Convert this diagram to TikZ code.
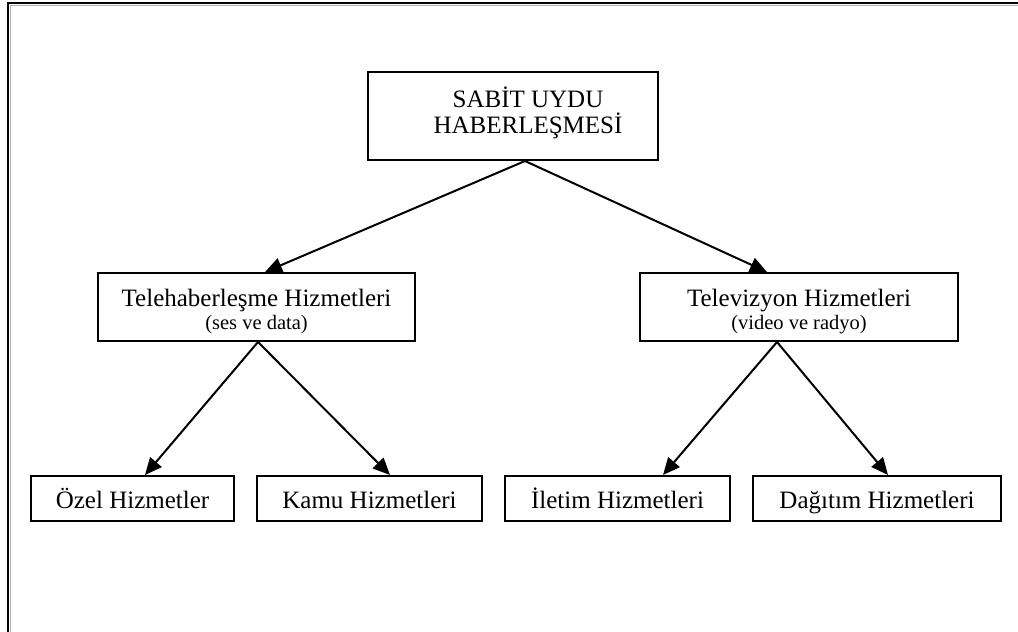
\documentclass[tikz,border=0pt]{standalone}
\usepackage{fontspec}
\setmainfont{Liberation Serif}
\usetikzlibrary{arrows.meta,calc}
% smaller type for the second line of a box
\newcommand\subline{\fontsize{20.5}{22}\selectfont}
\begin{document}
\begin{tikzpicture}[x=1pt,y=-1pt,
  box/.style={draw=black,line width=2pt,rectangle,inner sep=0pt,align=center,
    font=\fontsize{25}{26}\selectfont},
  leaf/.style={box,minimum height=45pt,text height=23pt,text depth=4pt},
  twoline/.style={box,minimum height=68pt,text height=50pt,text depth=6pt},
  link/.style={line width=2pt,-{Triangle[length=17pt,width=15pt]}}]
\useasboundingbox (0,0) rectangle (1018,632);
\clip (0,0) rectangle (1018,632);
% outer frame with a light shadow
\draw[gray!60,line width=1.5pt] (10.5,640) -- (10.5,5.5) -- (1030,5.5);
\draw[black,line width=2.5pt] (8,640) -- (8,3) -- (1030,3);

% tree of services
\node[box,minimum width=290pt,minimum height=88pt,text height=40pt,text depth=6pt]
  (root) at (513,116)
  {\hspace*{30pt}SABİT UYDU\\\hspace*{30pt}HABERLEŞMESİ};
\node[twoline,minimum width=317pt] (tele) at (256.5,307)
  {Telehaberleşme Hizmetleri\\[-3pt]{\subline (ses ve data)}};
\node[twoline,minimum width=318pt] (tv) at (799,307)
  {Televizyon Hizmetleri\\[-3pt]{\subline (video ve radyo)}};
\node[leaf,minimum width=203pt] (ozel) at (132.5,498.5) {Özel Hizmetler};
\node[leaf,minimum width=225pt] (kamu) at (369.5,498.5) {Kamu Hizmetleri};
\node[leaf,minimum width=225pt] (iletim) at (617.5,498.5) {İletim Hizmetleri};
\node[leaf,minimum width=248pt] (dagitim) at (877,498.5) {Dağıtım Hizmetleri};

\draw[link] ($(root.south)+(12,0)$) -- ($(tele.north)+(8.5,0)$);
\draw[link] ($(root.south)+(12,0)$) -- ($(tv.north)+(-32,0)$);
\draw[link] ($(tele.south)+(1.5,0)$) -- ($(ozel.north)+(12.5,0)$);
\draw[link] ($(tele.south)+(1.5,0)$) -- ($(kamu.north)+(20.5,0)$);
\draw[link] ($(tv.south)+(-22,0)$) -- ($(iletim.north)+(45.5,0)$);
\draw[link] ($(tv.south)+(-22,0)$) -- ($(dagitim.north)+(11,0)$);
\end{tikzpicture}
\end{document}
